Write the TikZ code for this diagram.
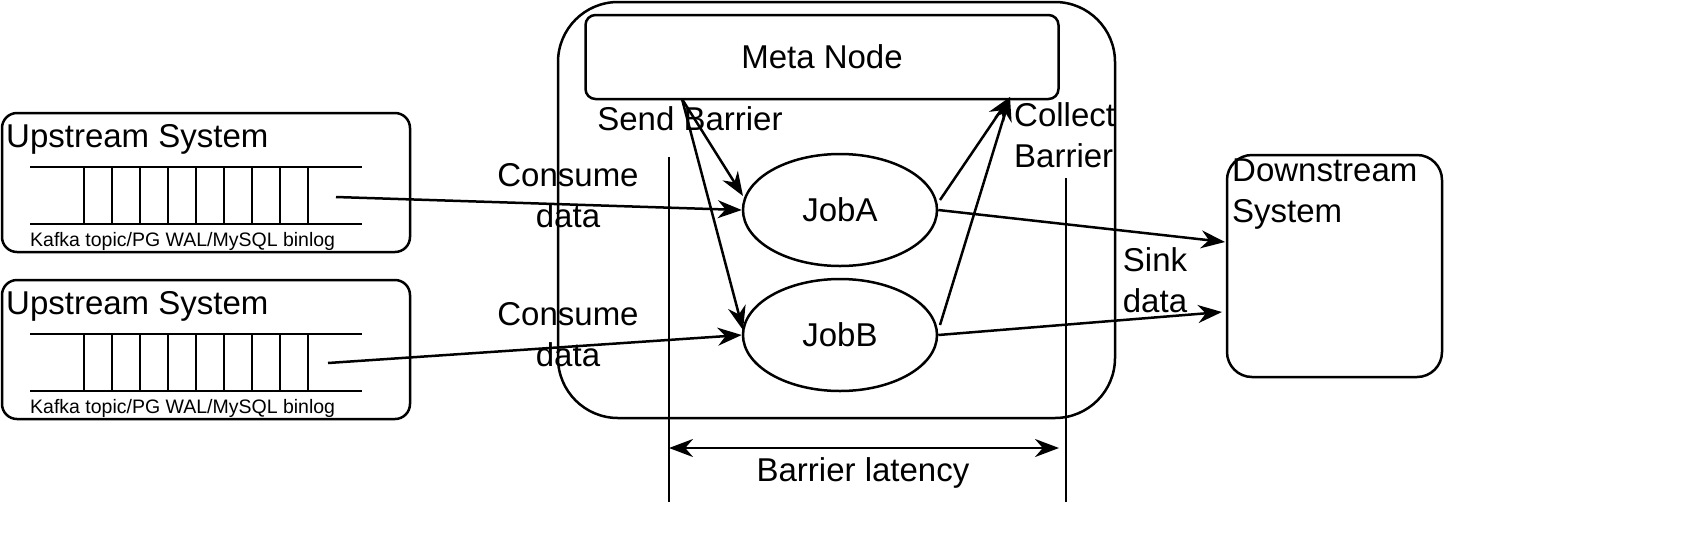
\documentclass[tikz,border=0pt]{standalone}
\usepackage{fontspec}
\setmainfont{Liberation Sans}
\usetikzlibrary{arrows.meta,positioning,shapes.geometric}

\tikzset{
  box/.style={draw, line width=2.5pt, rounded corners=#1},
  job/.style={draw, ellipse, line width=2.5pt, minimum width=194pt, minimum height=112pt,
    font=\fontsize{33}{40}\selectfont},
  lbl/.style={font=\fontsize{33}{41}\selectfont, align=center, inner sep=0pt},
  arr/.style={line width=2.5pt, -{Stealth[length=24pt,width=18pt]}},
  ln/.style={line width=2.5pt}
}

\begin{document}
\begin{tikzpicture}[x=1pt,y=-1pt]
  \useasboundingbox (0,0) rectangle (1689,558);
  % main cluster
  \draw[box=60pt] (558,2) rectangle (1115,418);
  \node[box=10pt, minimum width=473pt, minimum height=84pt, font=\fontsize{33}{40}\selectfont]
    (meta) at (822,57) {Meta Node};
  \node[job] (jobA) at (840,210) {JobA};
  \node[job] (jobB) at (840,335) {JobB};
  \node[lbl] (send) at (690,119) {Send Barrier};
  \node[lbl, align=left, anchor=north west] (collect) at (1014,102) {Collect\\Barrier};

  % upstream systems
  \foreach \n/\y in {1/113,2/280}{
    \draw[box=15pt] (2,\y) rectangle (410,\y+139);
    \node[lbl, anchor=west] (up\n) at (6,\y+26) {Upstream System};
    \draw[ln] (30,\y+54) -- (362,\y+54) (30,\y+111) -- (362,\y+111);
    \foreach \x in {84,112,...,308}
      \draw[ln] (\x,\y+54) -- (\x,\y+111);
    \node[font=\fontsize{19.5}{22}\selectfont, anchor=west, inner sep=0pt] (q\n) at (30,\y+128)
      {Kafka topic/PG WAL/MySQL binlog};
  }
  \coordinate (src1) at (336,197);
  \coordinate (src2) at (328,363);

  % downstream
  \draw[box=25pt] (1227,155) rectangle (1442,377);
  \node[lbl, align=left, anchor=north west] (down) at (1232,159) {Downstream\\System};
  \coordinate (dinA) at (1225,242);
  \coordinate (dinB) at (1222,312);

  \node[lbl] (cons1) at (568,196) {Consume\\data};
  \node[lbl] (cons2) at (568,335) {Consume\\data};
  \node[lbl] (sink) at (1155,280) {Sink\\data};

  % data flow
  \draw[arr] (src1) -- (jobA.west);
  \draw[arr] (src2) -- (jobB.west);
  \draw[arr] (jobA.east) -- (dinA);
  \draw[arr] (jobB.east) -- (dinB);

  % barriers
  \coordinate (mout) at (682,99);
  \coordinate (min) at (1010,97);
  \draw[arr] (mout) -- (743,196);
  \draw[arr] (mout) -- (743,330);
  \draw[arr] (940,200) -- (min);
  \draw[arr] (940,325) -- (min);

  % latency
  \draw[ln] (669,157) -- (669,502);
  \draw[ln] (1066,178) -- (1066,502);
  \coordinate (latL) at (669,448);
  \coordinate (latR) at (1059,448);
  \draw[ln, {Stealth[length=24pt,width=18pt]}-{Stealth[length=24pt,width=18pt]}] (latL) -- (latR);
  \node[lbl] (lat) at (863,473) {Barrier latency};
\end{tikzpicture}
\end{document}
